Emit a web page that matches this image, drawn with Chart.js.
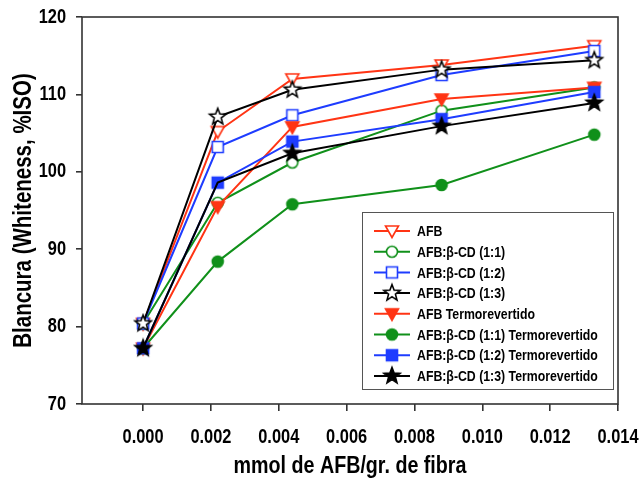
<!DOCTYPE html>
<html>
<head>
<meta charset="utf-8">
<script src="https://cdn.jsdelivr.net/npm/chart.js@4.4.1/dist/chart.umd.min.js"></script>
<style>
  html, body { margin: 0; padding: 0; background: #fff; }
  #wrap { width: 642px; height: 482px; }
</style>
</head>
<body>
<div id="wrap"><canvas id="c" width="642" height="482"></canvas></div>
<script>
// ---- Data ----
const xValues = [0, 0.0022, 0.0044, 0.0088, 0.0133];
const seriesNames = [
  'AFB',
  'AFB:\u03B2-CD (1:1)',
  'AFB:\u03B2-CD (1:2)',
  'AFB:\u03B2-CD (1:3)',
  'AFB Termorevertido',
  'AFB:\u03B2-CD (1:1) Termorevertido',
  'AFB:\u03B2-CD (1:2) Termorevertido',
  'AFB:\u03B2-CD (1:3) Termorevertido'
];
const afb       = [80.4, 105.2, 112.0, 113.8, 116.3];
const afbCd11   = [80.4, 96.0, 101.2, 107.9, 110.9];
const afbCd12   = [80.4, 103.2, 107.3, 112.5, 115.6];
const afbCd13   = [80.4, 107.1, 110.6, 113.2, 114.4];
const afbT      = [77.2, 95.5, 105.8, 109.4, 110.9];
const afbCd11T  = [77.2, 88.4, 95.8, 98.3, 104.8];
const afbCd12T  = [77.2, 98.6, 103.9, 106.8, 110.3];
const afbCd13T  = [77.2, 98.6, 102.4, 105.9, 108.9];
const xTickValues = [0, 0.002, 0.004, 0.006, 0.008, 0.010, 0.012, 0.014];
const yTickValues = [70, 80, 90, 100, 110, 120];
const xTitle = 'mmol de AFB/gr. de fibra';
const yTitle = 'Blancura (Whiteness, %ISO)';

// ---- Styles ----
const FONT = "'Liberation Sans', Arial, sans-serif";
const NARROW = 0.82; // horizontal squeeze -> Arial Narrow look
const RED = '#ff3414', GREEN = '#10901a', BLUE = '#1e3cff', BLACK = '#000000';
const AXIS = '#333333';

const canvas = document.getElementById('c');
const ctx0 = canvas.getContext('2d');
const origFillText = CanvasRenderingContext2D.prototype.fillText;
ctx0.fillText = function (t, x, y) {
  this.save();
  this.translate(x, y);
  this.scale(NARROW, 1);
  origFillText.call(this, t, 0, 0);
  this.restore();
};

function makeMarker(shape, color, filled) {
  const s = 22;
  const c = document.createElement('canvas');
  c.width = s; c.height = s;
  const g = c.getContext('2d');
  g.translate(s / 2, s / 2);
  g.beginPath();
  if (shape === 'tri') {
    g.moveTo(-6.5, -5); g.lineTo(6.5, -5); g.lineTo(0, 6.5); g.closePath();
  } else if (shape === 'circle') {
    g.arc(0, 0, 5.5, 0, Math.PI * 2);
  } else if (shape === 'square') {
    g.rect(-5.5, -5.5, 11, 11);
  } else if (shape === 'star') {
    const R = 8.5, r = 3.6;
    for (let i = 0; i < 10; i++) {
      const a = -Math.PI / 2 + i * Math.PI / 5;
      const rad = i % 2 === 0 ? R : r;
      const px = Math.cos(a) * rad, py = Math.sin(a) * rad;
      if (i === 0) g.moveTo(px, py); else g.lineTo(px, py);
    }
    g.closePath();
  }
  g.fillStyle = filled ? color : '#ffffff';
  g.fill();
  g.lineWidth = 1.6;
  g.strokeStyle = color;
  g.stroke();
  return c;
}

const seriesData = [afb, afbCd11, afbCd12, afbCd13, afbT, afbCd11T, afbCd12T, afbCd13T];
const seriesColors = [RED, GREEN, BLUE, BLACK, RED, GREEN, BLUE, BLACK];
const seriesShapes = ['tri', 'circle', 'square', 'star', 'tri', 'circle', 'square', 'star'];
const seriesFilled = [false, false, false, false, true, true, true, true];
const markers = seriesData.map((_, i) => makeMarker(seriesShapes[i], seriesColors[i], seriesFilled[i]));

const datasets = seriesData.map((vals, i) => ({
  label: seriesNames[i],
  data: xValues.map((x, j) => ({ x: x, y: vals[j] })),
  borderColor: seriesColors[i],
  backgroundColor: seriesColors[i],
  borderWidth: 2,
  pointStyle: markers[i],
  pointRadius: (i === 7) ? [6, 0, 6, 6, 6] : 6,
  pointHoverRadius: 6,
  tension: 0,
  fill: false,
  order: 8 - i
}));

const framePlugin = {
  id: 'frame',
  beforeDatasetsDraw(chart) {
    const a = chart.chartArea, ctx = chart.ctx;
    ctx.save();
    ctx.strokeStyle = AXIS;
    ctx.lineWidth = 1.6;
    ctx.strokeRect(a.left, a.top, a.right - a.left, a.bottom - a.top);
    ctx.restore();
  }
};
const legendPlugin = {
  id: 'boxLegend',
  afterDraw(chart) {
    const ctx = chart.ctx;
    const bx = 362, by = 212, bw = 251, bh = 177;
    ctx.save();
    ctx.fillStyle = '#ffffff';
    ctx.fillRect(bx, by, bw, bh);
    ctx.strokeStyle = '#555555';
    ctx.lineWidth = 1;
    ctx.strokeRect(bx + 0.5, by + 0.5, bw, bh);
    ctx.font = 'bold 15px ' + FONT;
    ctx.textBaseline = 'middle';
    ctx.textAlign = 'left';
    seriesNames.forEach((name, i) => {
      const y = 231 + i * 20.7;
      ctx.strokeStyle = seriesColors[i];
      ctx.lineWidth = 2;
      ctx.beginPath();
      ctx.moveTo(374, y); ctx.lineTo(410, y);
      ctx.stroke();
      const m = markers[i];
      ctx.drawImage(m, 392 - m.width / 2, y - m.height / 2);
      ctx.fillStyle = '#000';
      ctx.fillText(name, 417, y + 1);
    });
    ctx.restore();
  }
};

new Chart(canvas, {
  type: 'line',
  data: { datasets: datasets },
  options: {
    responsive: false,
    animation: false,
    devicePixelRatio: 1,
    layout: { padding: { top: 17, right: 24, left: 0, bottom: 0 } },
    plugins: { legend: { display: false }, tooltip: { enabled: false } },
    scales: {
      x: {
        type: 'linear',
        min: -0.0018,
        max: 0.014,
        afterBuildTicks(scale) { scale.ticks = xTickValues.map(v => ({ value: v })); },
        afterFit(scale) { scale.height = 78; scale.paddingLeft = 0; scale.paddingRight = 0; },
        ticks: {
          callback: v => Number(v).toFixed(3),
          color: '#000',
          font: { family: FONT, size: 20, weight: 'bold' },
          padding: 14,
          maxRotation: 0,
          autoSkip: false
        },
        grid: { display: true, drawOnChartArea: false, drawTicks: true, tickLength: 7, tickColor: AXIS, lineWidth: 1.6 },
        border: { display: false },
        title: { display: true, text: xTitle, color: '#000', font: { family: FONT, size: 24, weight: 'bold' }, padding: { top: 0, bottom: 1 } }
      },
      y: {
        min: 70,
        max: 120,
        afterBuildTicks(scale) { scale.ticks = yTickValues.map(v => ({ value: v })); },
        afterFit(scale) { scale.width = 82; scale.paddingTop = 0; scale.paddingBottom = 0; },
        ticks: {
          color: '#000',
          font: { family: FONT, size: 20, weight: 'bold' },
          padding: 10
        },
        grid: { display: true, drawOnChartArea: false, drawTicks: true, tickLength: 6, tickColor: AXIS, lineWidth: 1.6 },
        border: { display: false },
        title: { display: true, text: yTitle, color: '#000', font: { family: FONT, size: 25, weight: 'bold' }, padding: { top: 9, bottom: 0 } }
      }
    }
  },
  plugins: [framePlugin, legendPlugin]
});
</script>
</body>
</html>
